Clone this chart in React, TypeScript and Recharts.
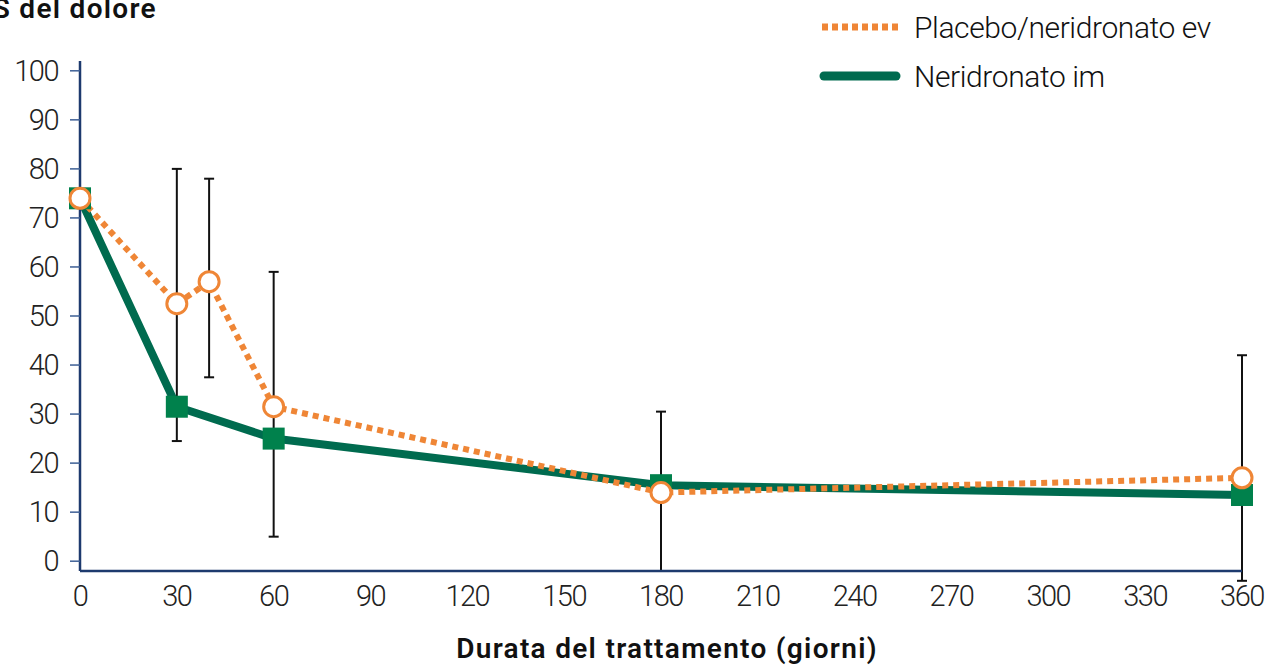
import { LineChart, Line, XAxis, YAxis, ErrorBar } from "recharts";

// giorni di trattamento
const days = [0, 30, 40, 60, 180, 360];
// VAS medio, Placebo/neridronato ev
const placebo = [74, 52.5, 57, 31.5, 14, 17];
// VAS medio, Neridronato im (nessuna misura al giorno 40)
const neridronato = [74, 31.5, null, 25, 15.5, 13.5];
// estremi delle barre d'errore
const errLow = [null, 24.5, 37.5, 5, -2, -4];
const errHigh = [null, 80, 78, 59, 30.5, 42];

const xTicks = [0, 30, 60, 90, 120, 150, 180, 210, 240, 270, 300, 330, 360];
const yTicks = [0, 10, 20, 30, 40, 50, 60, 70, 80, 90, 100];

const ORANGE = "#ef8636";
const GREEN_LINE = "#006b4f";
const GREEN_MARK = "#00814c";
const AXIS = "#1d3a6e";
const FONT = "Roboto, 'Noto Sans', sans-serif";

const data = days.map((d, i) => ({
  day: d,
  placebo: placebo[i],
  neridronato: neridronato[i],
  err:
    errLow[i] == null
      ? undefined
      : [placebo[i] - (errLow[i] as number), (errHigh[i] as number) - placebo[i]],
}));

const tickStyle = { fill: "#222", fontSize: 29, fontWeight: 300, fontFamily: FONT, letterSpacing: -1.5 };

const SquareDot = (props: any) => {
  const { cx, cy, index } = props;
  if (cx == null || cy == null || props.value == null) return <g key={`sq-${index}`} />;
  return <rect key={`sq-${index}`} x={cx - 11} y={cy - 11} width={22} height={22} fill={GREEN_MARK} />;
};

const CircleDot = (props: any) => {
  const { cx, cy, index } = props;
  if (cx == null || cy == null) return <g key={`ci-${index}`} />;
  return (
    <circle key={`ci-${index}`} cx={cx} cy={cy} r={10} fill="#fff" stroke={ORANGE} strokeWidth={3} />
  );
};

export default function App() {
  return (
    <div style={{ position: "absolute", left: 0, top: 0, width: 1271, height: 666, background: "#fff", fontFamily: FONT }}>
      <LineChart
        width={1271}
        height={666}
        data={data}
        margin={{ top: 61, right: 29, left: 0, bottom: 0 }}
      >
        <XAxis
          dataKey="day"
          type="number"
          domain={[0, 360]}
          ticks={xTicks}
          interval={0}
          tickLine={false}
          tickSize={0}
          tickMargin={14}
          height={95}
          axisLine={{ stroke: AXIS, strokeWidth: 2.5 }}
          tick={tickStyle}
          label={{
            value: "Durata del trattamento (giorni)",
            position: "insideBottom",
            offset: 8,
            dx: 6,
            fill: "#111",
            fontSize: 28,
            fontWeight: 600,
            fontFamily: FONT,
            letterSpacing: 1.3,
          }}
        />
        <YAxis
          type="number"
          domain={[-2, 102]}
          allowDataOverflow
          ticks={yTicks}
          interval={0}
          width={80}
          tickSize={10}
          tickMargin={12}
          tickLine={{ stroke: "#3d5f95", strokeWidth: 1.5 }}
          axisLine={{ stroke: AXIS, strokeWidth: 2.5 }}
          tick={tickStyle}
        />
        {/* serie invisibile che porta solo le barre d'errore, sotto tutto */}
        <Line
          dataKey="placebo"
          stroke="none"
          dot={false}
          activeDot={false}
          legendType="none"
          isAnimationActive={false}
        >
          <ErrorBar dataKey="err" width={5} stroke="#111" strokeWidth={2} direction="y" />
        </Line>
        <Line
          dataKey="neridronato"
          stroke={GREEN_LINE}
          strokeWidth={8}
          strokeLinejoin="round"
          connectNulls
          dot={SquareDot}
          activeDot={false}
          isAnimationActive={false}
        />
        <Line
          dataKey="placebo"
          stroke={ORANGE}
          strokeWidth={6}
          strokeDasharray="6 5"
          dot={CircleDot}
          activeDot={false}
          isAnimationActive={false}
        />
      </LineChart>

      <svg
        width={1271}
        height={666}
        style={{ position: "absolute", left: 0, top: 0, pointerEvents: "none" }}
      >
        <text x={157} y={18} textAnchor="end" fontSize={28} fontWeight={600} fill="#111" fontFamily={FONT} letterSpacing={1.3}>
          VAS del dolore
        </text>
        <line x1={822} y1={27} x2={898} y2={27} stroke={ORANGE} strokeWidth={7} strokeDasharray="6 4" />
        <text x={914} y={27} dy="0.355em" fontSize={30} fontWeight={300} fill="#111" fontFamily={FONT} letterSpacing={-0.4}>
          Placebo/neridronato ev
        </text>
        <line x1={824} y1={76} x2={896} y2={76} stroke={GREEN_LINE} strokeWidth={9} strokeLinecap="round" />
        <text x={914} y={76} dy="0.355em" fontSize={30} fontWeight={300} fill="#111" fontFamily={FONT} letterSpacing={-0.4}>
          Neridronato im
        </text>
      </svg>
    </div>
  );
}
